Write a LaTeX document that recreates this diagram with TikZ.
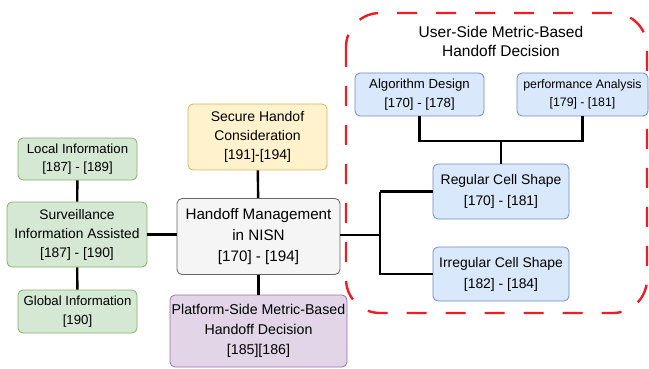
\documentclass[tikz,border=0pt]{standalone}
\usepackage{fontspec}
\setmainfont{Liberation Sans}
\usepackage{xcolor}
\usetikzlibrary{positioning}

\definecolor{greenfill}{HTML}{D5E8D4}
\definecolor{greenline}{HTML}{82B366}
\definecolor{yellowfill}{HTML}{FFF2CC}
\definecolor{yellowline}{HTML}{D6B656}
\definecolor{purplefill}{HTML}{E1D5E7}
\definecolor{purpleline}{HTML}{9673A6}
\definecolor{bluefill}{HTML}{DAE8FC}
\definecolor{blueline}{HTML}{6C8EBF}
\definecolor{greyfill}{HTML}{F5F5F5}
\definecolor{greyline}{HTML}{666666}
\definecolor{dashred}{HTML}{EE1C25}

\tikzset{
	box/.style={draw, rounded corners=5pt, align=center, inner sep=0pt, line width=0.8pt,
		font=\fontsize{13.2}{18.5}\selectfont},
	greenbox/.style={box, fill=greenfill, draw=greenline},
	yellowbox/.style={box, fill=yellowfill, draw=yellowline},
	purplebox/.style={box, fill=purplefill, draw=purpleline},
	bluebox/.style={box, fill=bluefill, draw=blueline},
	greybox/.style={box, fill=greyfill, draw=greyline},
	conn/.style={line width=2.4pt, black}
}

\begin{document}
\begin{tikzpicture}[x=1pt, y=-1pt]
	\useasboundingbox (0,0) rectangle (649,369);

	% user-side group
	\draw[dashred, line width=2.4pt, dash pattern=on 20pt off 19pt, rounded corners=34pt]
		(346,13) rectangle (647,313);
	\node[align=center, font=\fontsize{15.5}{19}\selectfont] (usertitle) at (501,41)
		{User-Side Metric-Based\\Handoff Decision};

	% nodes
	\node[greybox, minimum width=163pt, minimum height=76pt, font=\fontsize{15.2}{21}\selectfont]
		(hm) at (258.5,236.5) {Handoff Management\\in NISN\\{}[170] - [194]};
	\node[yellowbox, minimum width=139pt, minimum height=66pt, font=\fontsize{14}{19}\selectfont]
		(secure) at (257.5,137) {Secure Handof\\Consideration\\{}[191]-[194]};
	\node[purplebox, minimum width=177pt, minimum height=72pt, font=\fontsize{14.2}{20}\selectfont]
		(platform) at (258.5,331) {Platform-Side Metric-Based\\Handoff Decision\\{}[185][186]};

	\node[greenbox, minimum width=140pt, minimum height=65pt, font=\fontsize{13.8}{19}\selectfont]
		(surv) at (77,234.5) {Surveillance\\Information Assisted\\{}[187] - [190]};
	\node[greenbox, minimum width=119pt, minimum height=42pt] (local) at (77.5,159)
		{Local Information\\{}[187] - [189]};
	\node[greenbox, minimum width=119pt, minimum height=43pt] (global) at (77.5,311.5)
		{Global Information\\{}[190]};

	\node[bluebox, minimum width=129pt, minimum height=43pt] (algo) at (419.5,94.5)
		{Algorithm Design\\{}[170] - [178]};
	\node[bluebox, minimum width=131pt, minimum height=43pt, font=\fontsize{12.3}{18}\selectfont]
		(perf) at (582.5,94.5) {performance Analysis\\{}[179] - [181]};
	\node[bluebox, minimum width=136pt, minimum height=55pt, font=\fontsize{13.9}{21}\selectfont]
		(regular) at (501,191.5) {Regular Cell Shape\\{}[170] - [181]};
	\node[bluebox, minimum width=136pt, minimum height=54pt, font=\fontsize{13.9}{21}\selectfont]
		(irregular) at (501,274) {Irregular Cell Shape\\{}[182] - [184]};

	\coordinate (join) at (501,141);
	\coordinate (fork) at (380,235);

	% connectors
	\draw[conn] (local) -- (surv);
	\draw[conn] (surv) -- (global);
	\draw[conn] (surv.east) -- (surv.east -| hm.west);
	\draw[conn] (secure) -- (hm);
	\draw[conn] (hm) -- (platform);
	\draw[conn] (hm.east |- fork) -- (fork);
	\draw[conn] (fork |- regular.west) -- (regular.west);
	\draw[conn] (fork |- regular.west) |- (irregular.west);
	\draw[conn] (algo.south) |- (join) -| (perf.south);
	\draw[conn] (join) -- (regular.north);
\end{tikzpicture}
\end{document}
